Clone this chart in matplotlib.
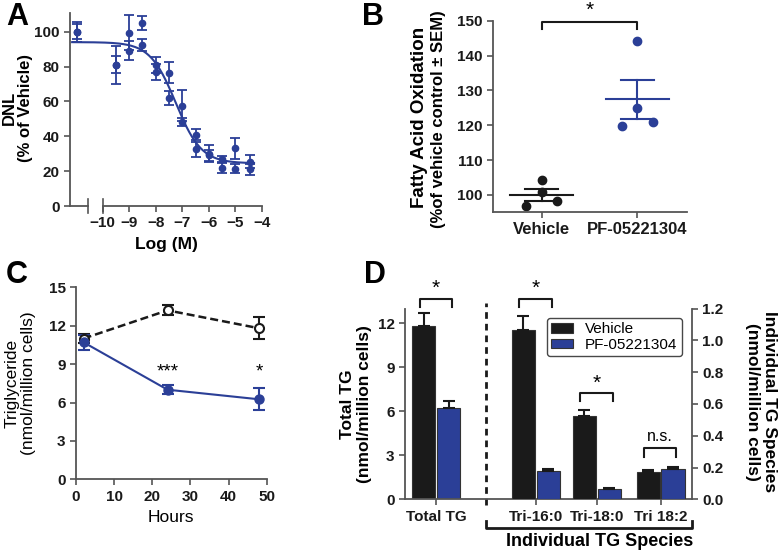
import numpy as np
import matplotlib.pyplot as plt
from matplotlib.transforms import blended_transform_factory as blend

plt.rcParams['font.family'] = ['Liberation Sans', 'DejaVu Sans']
plt.rcParams['font.weight'] = 'bold'

BLUE = '#2b3f97'
INK = '#1a1a1a'
AXC = '#555555'

# ---- panel A: DNL dose response (two runs per concentration)
a_logc = [-10.95, -9.5, -9.0, -8.5, -8.0, -7.5, -7.0, -6.5, -6.0, -5.5, -5.0, -4.45]
a_run1 = [100, 81, 99.5, 105, 81, 76.5, 57.5, 41, 30, 27, 33, 25.5]
a_err1 = [5.7, 11, 10, 4, 4.5, 6.2, 9, 3.2, 5, 1.5, 6, 3.5]
a_run2 = [100, 81, 89, 92.5, 77, 62, 48, 32.5, 29, 22, 21.5, 21]
a_err2 = [4.3, 5, 5.5, 3.5, 4.5, 3.8, 2.3, 4.3, 3, 2.8, 2.5, 3.2]
# fitted 4-parameter logistic
fit_top, fit_bottom, fit_logec50, fit_hill = 94.0, 24.5, -7.25, 0.9

# ---- panel B: fatty acid oxidation, individual wells
b_groups = ['Vehicle', 'PF-05221304']
b_vehicle = [96.7, 104.3, 100.7, 98.4]
b_pf = [144.1, 125.0, 119.8, 120.8]

# ---- panel C: triglyceride time course
c_hours = [2, 24, 48]
c_vehicle = [11.0, 13.2, 11.8]
c_vehicle_err = [0.35, 0.4, 0.85]
c_pf = [10.7, 7.0, 6.25]
c_pf_err = [0.6, 0.35, 0.85]

# ---- panel D: total and individual TG species
d_labels = ['Total TG', 'Tri-16:0', 'Tri-18:0', 'Tri 18:2']
d_total = [11.8, 6.25]
d_total_err = [0.87, 0.42]
d_sp_vehicle = [1.065, 0.524, 0.172]
d_sp_vehicle_err = [0.09, 0.038, 0.01]
d_sp_pf = [0.18, 0.065, 0.193]
d_sp_pf_err = [0.01, 0.004, 0.012]

fig = plt.figure(figsize=(7.84, 5.55), dpi=100)


def px_axes(l, t, r, b):
    return fig.add_axes([l / 784, 1 - b / 555, (r - l) / 784, (b - t) / 555])


def ftext(x, y, s, **kw):
    return fig.text(x / 784, 1 - y / 555, s, ha='center', va='center', **kw)


def style(ax):
    for s in ['top', 'right']:
        ax.spines[s].set_visible(False)
    for s in ['left', 'bottom']:
        ax.spines[s].set_color(AXC)
        ax.spines[s].set_linewidth(1.3)
    ax.tick_params(colors=AXC, labelcolor=INK, length=4, width=1.2, labelsize=11)


# ================= A
axA = px_axes(70, 13, 262, 206)
style(axA)
for vals, errs in [(a_run1, a_err1), (a_run2, a_err2)]:
    axA.errorbar(a_logc, vals, yerr=errs, fmt='o', ms=4.5, color=BLUE,
                 capsize=3.5, elinewidth=1.3, capthick=1.3)
xs = np.linspace(-11.15, -4.3, 200)
axA.plot(xs, fit_bottom + (fit_top - fit_bottom) / (1 + 10 ** ((xs - fit_logec50) * fit_hill)),
         color=BLUE, lw=1.5)
axA.set_xlim(-11.23, -4)
axA.set_ylim(0, 110.7)
axA.set_yticks(range(0, 101, 20))
axA.set_xticks(range(-10, -3))
axA.spines['bottom'].set_bounds(-10, -4)
tA = blend(axA.transData, axA.transAxes)
axA.plot([-11.23, -10.55], [0, 0], transform=tA, color=AXC, lw=1.3, clip_on=False)
for bx in [-10.55, -10]:
    axA.plot([bx, bx], [-0.035, 0.035], transform=tA, color=AXC, lw=1.2, clip_on=False)
ftext(17, 108, 'DNL\n(% of Vehicle)', rotation=90, fontsize=12, linespacing=1.1)
ftext(166, 245, 'Log (M)', fontsize=12.5)

# ================= B
axB = px_axes(493, 20.7, 687, 212)
style(axB)
offs_v = [-0.16, 0, 0, 0.16]
offs_p = [0, 0, -0.16, 0.16]
for i, (pts, offs, col) in enumerate([(b_vehicle, offs_v, INK), (b_pf, offs_p, BLUE)]):
    axB.plot(np.array(offs) + i, pts, 'o', ms=6, color=col)
    m = np.mean(pts)
    sem = np.std(pts, ddof=1) / np.sqrt(len(pts))
    axB.plot([i - 0.33, i + 0.33], [m, m], color=col, lw=1.5)
    axB.plot([i, i], [m - sem, m + sem], color=col, lw=1.5)
    for yy in [m - sem, m + sem]:
        axB.plot([i - 0.175, i + 0.175], [yy, yy], color=col, lw=1.5)
axB.set_xlim(-0.51, 1.52)
axB.set_ylim(95.1, 150)
axB.set_yticks(range(100, 151, 10))
axB.set_xticks([0, 1])
axB.set_xticklabels(b_groups, fontsize=12)
axB.plot([0, 0, 1, 1], [147.5, 149.7, 149.7, 147.5], color=INK, lw=1.5, clip_on=False)
axB.text(0.5, 150.3, '*', ha='center', va='bottom', fontsize=15, fontweight='normal')
ftext(420, 117, 'Fatty Acid Oxidation', rotation=90, fontsize=13.5)
ftext(439, 119, '(%of vehicle control \u00b1 SEM)', rotation=90, fontsize=12)

# ================= C
axC = px_axes(76, 287.3, 266.7, 479.3)
style(axC)
axC.errorbar(c_hours, c_vehicle, yerr=c_vehicle_err, color=INK, lw=1.8, dashes=(3.2, 1.6),
             marker='o', ms=6.5, mfc='white', mec=INK, mew=1.5,
             capsize=4, elinewidth=1.5, capthick=1.5)
axC.errorbar(c_hours, c_pf, yerr=c_pf_err, color=BLUE, lw=1.5,
             marker='o', ms=6.5, capsize=4, elinewidth=1.5, capthick=1.5)
axC.set_xlim(0, 50)
axC.set_ylim(0, 15)
axC.set_xticks(range(0, 51, 10))
axC.set_yticks(range(0, 16, 3))
axC.text(24, 8.4, '***', ha='center', va='center', fontsize=13.5, fontweight='normal')
axC.text(48, 8.4, '*', ha='center', va='center', fontsize=13.5, fontweight='normal')
ftext(20, 383, 'Triglyceride\n(nmol/million cells)', rotation=90, fontsize=12.5,
      fontweight='normal', linespacing=1.1)
ftext(171, 517, 'Hours', fontsize=12.5, fontweight='normal')

# ================= D
axD = px_axes(405, 308.6, 691.7, 499.3)
style(axD)
ax2 = axD.twinx()
for s in ['top', 'left', 'bottom']:
    ax2.spines[s].set_visible(False)
ax2.spines['right'].set_color(AXC)
ax2.spines['right'].set_linewidth(1.3)
ax2.tick_params(colors=AXC, labelcolor=INK, length=4, width=1.2, labelsize=11)

pos = np.array([0, 1.6, 2.58, 3.6])
bw, off = 0.37, 0.2
ekw = dict(ecolor=INK, elinewidth=1.5, capsize=4.5, capthick=1.5)
axD.bar(pos[0] - off, d_total[0], bw, color=INK, edgecolor='#333333', lw=0.8,
        yerr=[[0], [d_total_err[0]]], error_kw=ekw)
axD.bar(pos[0] + off, d_total[1], bw, color=BLUE, edgecolor='#333333', lw=0.8,
        yerr=[[0], [d_total_err[1]]], error_kw=ekw)
ax2.bar(pos[1:] - off, d_sp_vehicle, bw, color=INK, edgecolor='#333333', lw=0.8,
        yerr=[np.zeros(3), d_sp_vehicle_err], error_kw=ekw, label='Vehicle')
ax2.bar(pos[1:] + off, d_sp_pf, bw, color=BLUE, edgecolor='#333333', lw=0.8,
        yerr=[np.zeros(3), d_sp_pf_err], error_kw=ekw, label='PF-05221304')
axD.set_xlim(-0.5, 4.1)
axD.set_ylim(0, 13)
ax2.set_ylim(0, 1.2)
axD.set_yticks(range(0, 13, 3))
ax2.set_yticks(np.arange(0, 1.21, 0.2))
ax2.set_yticklabels([f'{v:.1f}' for v in np.arange(0, 1.21, 0.2)])
axD.set_xticks(pos)
axD.set_xticklabels(d_labels)

# significance brackets (right-axis units)
for x0, x1, y, leg, txt in [(-0.26, 0.26, 1.26, 1.208, '*'),
                            (1.335, 1.865, 1.26, 1.208, '*'),
                            (2.31, 2.83, 0.667, 0.618, '*'),
                            (3.34, 3.85, 0.321, 0.268, 'n.s.')]:
    ax2.plot([x0, x0, x1, x1], [leg, y, y, leg], color=INK, lw=1.5, clip_on=False)
    if txt == '*':
        ax2.text((x0 + x1) / 2, y + 0.005, txt, ha='center', va='bottom', fontsize=15,
                 fontweight='normal')
    else:
        ax2.text((x0 + x1) / 2, y + 0.025, txt, ha='center', va='bottom', fontsize=11.5,
                 fontweight='normal')

tD = blend(axD.transData, axD.transAxes)
axD.plot([0.8, 0.8], [-0.03, 1.03], transform=tD, color=INK, lw=2, dashes=(2.4, 1.8),
         clip_on=False)
axD.plot([0.8, 0.8, 4.1, 4.1], [-0.114, -0.15, -0.15, -0.114], transform=tD, color=INK,
         lw=2, clip_on=False)
axD.text(2.63, -0.222, 'Individual TG Species', transform=tD, ha='center', va='center',
         fontsize=13)

leg = ax2.legend(loc='upper right', bbox_to_anchor=(0.966, 0.952), borderaxespad=0,
                 prop={'size': 11, 'weight': 'normal'}, handlelength=1.4, handleheight=0.6,
                 frameon=True, fancybox=True, edgecolor=INK, labelspacing=0.1,
                 borderpad=0.3, handletextpad=0.8)
leg.get_frame().set_linewidth(1.0)

ftext(356, 404, 'Total TG\n(nmol/million cells)', rotation=90, fontsize=12.5, linespacing=1.1)
ftext(761, 402, 'Individual TG Species\n(nmol/million cells)', rotation=-90, fontsize=12.5,
      linespacing=1.1)

# panel letters
for x, y, s in [(17, 17, 'A'), (373, 17, 'B'), (17, 275, 'C'), (375, 275, 'D')]:
    ftext(x, y, s, fontsize=22)

fig.savefig('out.png', dpi=100)
